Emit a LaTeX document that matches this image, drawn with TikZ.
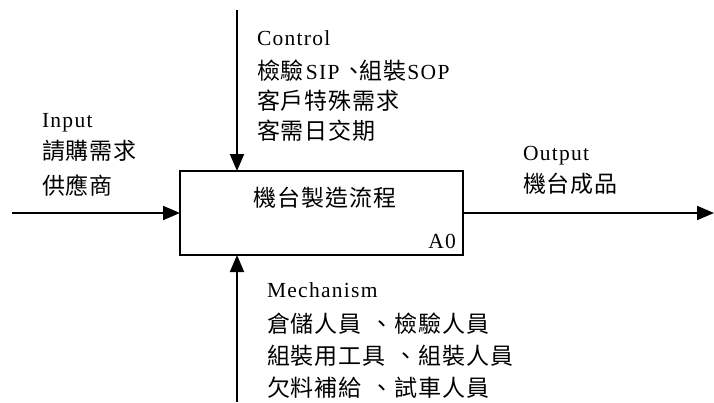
\documentclass[tikz,border=0pt]{standalone}
\usepackage{fontspec}
\setmainfont{Liberation Serif}[LetterSpace=6]
\newfontfamily\cjk{Noto Sans CJK TC}[LetterSpace=4]
\newcommand\zh[1]{{\fontsize{23}{24}\cjk #1}}
\usetikzlibrary{arrows.meta}
\begin{document}
\begin{tikzpicture}[x=1pt,y=-1pt,
  every node/.style={inner sep=0pt,outer sep=0pt},
  txt/.style={anchor=base west,font=\fontsize{21.5}{24}\selectfont},
  flow/.style={line width=2pt,-{Triangle[length=17pt,width=14pt]}},
  procbox/.style={draw,line width=2pt,minimum width=283pt,minimum height=84pt}]
\useasboundingbox (0,0) rectangle (714,402);
\node[procbox] (box) at (321.5,213) {};
\node[txt,anchor=center] (title) at (325,198) {\zh{機台製造流程}};
\node[txt,anchor=base east] (a0) at (456,248) {A0};
% control
\coordinate (ctop) at (237,10);
\draw[flow] (ctop) -- (ctop |- box.north);
\node[txt] (c1) at (257,45) {Control};
\node[txt] (c2) at (257,79) {\zh{檢驗}\kern2pt SIP\kern3pt\zh{、}\kern-6pt\zh{組裝}\kern1pt SOP};
\node[txt] (c3) at (257,109) {\zh{客戶特殊需求}};
\node[txt] (c4) at (257,139) {\zh{客需日交期}};
% input
\coordinate (iin) at (12,213);
\draw[flow] (iin) -- (box.west);
\node[txt] (i1) at (42,127) {Input};
\node[txt] (i2) at (42,159) {\zh{請購需求}};
\node[txt] (i3) at (42,194) {\zh{供應商}};
% output
\coordinate (oout) at (714,213);
\draw[flow] (box.east) -- (oout);
\node[txt] (o1) at (523,160) {Output};
\node[txt] (o2) at (523,192) {\zh{機台成品}};
% mechanism
\coordinate (mbot) at (237,402);
\draw[flow] (mbot) -- (mbot |- box.south);
\node[txt] (m1) at (267,297) {Mechanism};
\node[txt] (m2) at (267,332) {\zh{倉儲人員}\kern9pt\zh{、檢驗人員}};
\node[txt] (m3) at (267,364) {\zh{組裝用工具}\kern9pt\zh{、組裝人員}};
\node[txt] (m4) at (267,396) {\zh{欠料補給}\kern9pt\zh{、試車人員}};
\end{tikzpicture}
\end{document}
